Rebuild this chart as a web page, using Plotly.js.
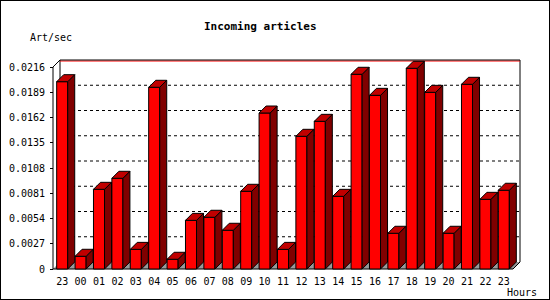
<!DOCTYPE html>
<html><head><meta charset="utf-8">
<script src="https://cdn.plot.ly/plotly-3.0.1.min.js"></script>
<style>html,body{margin:0;padding:0;background:#fff}#chart{width:548px;height:298px;border:1px solid #000}</style>
</head><body><div id="chart"></div>
<script>
// ---- data ----
const hours = ['23','00','01','02','03','04','05','06','07','08','09','10','11','12','13','14','15','16','17','18','19','20','21','22','23'];
const rate = [0.02003, 0.00136, 0.00852, 0.00970, 0.00210, 0.01943, 0.00104, 0.00520, 0.00553, 0.00414,
              0.00831, 0.01668, 0.00210, 0.01419, 0.01579, 0.00777, 0.02082, 0.01857, 0.00382, 0.02146,
              0.01889, 0.00382, 0.01975, 0.00745, 0.00842];
const yTickVals = [0, 0.0027, 0.0054, 0.0081, 0.0108, 0.0135, 0.0162, 0.0189, 0.0216];
const yTickText = ['0', '0.0027', '0.0054', '0.0081', '0.0108', '0.0135', '0.0162', '0.0189', '0.0216'];

// ---- geometry (layout only) ----
const nCat = hours.length;
const yMax = yTickVals[yTickVals.length - 1];
const catPx = 18.4, valPx = 202 / yMax, depthPx = 7, padPx = 3;
const dx = depthPx / catPx, dy = depthPx / valPx;
const barW = 0.6;
const W = 548, H = 298;
const plotW = nCat * catPx + depthPx + 2 * padPx;
const plotH = 202 + depthPx + 2 * padPx;
const mL = 52 - padPx, mT = 59 - padPx;
const mR = W - mL - plotW, mB = H - mT - plotH;
const xRange = [-padPx / catPx, nCat + dx + padPx / catPx];
const yRange = [-padPx / valPx, yMax + dy + padPx / valPx];
const paperX = px => (px - 1 - mL) / plotW;
const paperY = py => (H - mB - (py - 1)) / plotH;

const xc = hours.map((h, i) => i + 0.5);

// side and top faces of the 3D bars
const sideX = [], sideY = [], topX = [], topY = [];
rate.forEach((v, i) => {
  const xl = xc[i] - barW / 2, xr = xc[i] + barW / 2;
  sideX.push(xr, xr + dx, xr + dx, xr, xr, null);
  sideY.push(0, dy, v + dy, v, 0, null);
  topX.push(xl, xr, xr + dx, xl + dx, xl, null);
  topY.push(v, v, v + dy, v + dy, v, null);
});

const traces = [
  { type: 'bar', x: xc, y: rate, width: barW,
    marker: { color: '#ff0000', line: { color: '#000000', width: 1 } }, hoverinfo: 'skip' },
  { type: 'scatter', mode: 'lines', x: sideX, y: sideY, fill: 'toself', fillcolor: '#800000',
    line: { color: '#000000', width: 1 }, hoverinfo: 'skip' },
  { type: 'scatter', mode: 'lines', x: topX, y: topY, fill: 'toself', fillcolor: '#c00000',
    line: { color: '#000000', width: 1 }, hoverinfo: 'skip' }
];

const shapes = [];
// floor
shapes.push({ type: 'path', layer: 'below', path: `M 0 0 L ${nCat} 0 L ${nCat + dx} ${dy} L ${dx} ${dy} Z`,
  fillcolor: '#999999', line: { width: 0 } });
// back wall grid lines
yTickVals.slice(1, -1).forEach(v => {
  shapes.push({ type: 'line', layer: 'below', x0: dx, x1: nCat + dx, y0: v + dy, y1: v + dy,
    line: { color: '#000000', width: 1, dash: 'dot' } });
});
// back wall edges
shapes.push({ type: 'line', layer: 'below', x0: dx, x1: dx, y0: dy, y1: yMax + dy, line: { color: '#000', width: 1 } });
shapes.push({ type: 'line', layer: 'below', x0: nCat + dx, x1: nCat + dx, y0: dy, y1: yMax + dy, line: { color: '#000', width: 1 } });
shapes.push({ type: 'line', layer: 'below', x0: dx, x1: nCat + dx, y0: yMax + dy - 1 / valPx, y1: yMax + dy - 1 / valPx, line: { color: '#ff0000', width: 1 } });
shapes.push({ type: 'line', layer: 'below', x0: dx, x1: nCat + dx, y0: yMax + dy, y1: yMax + dy, line: { color: '#000', width: 1 } });
// front axis with diagonal to back wall
shapes.push({ type: 'path', layer: 'below', path: `M 0 0 L 0 ${yMax} L ${dx} ${yMax + dy}`, line: { color: '#000', width: 1 } });
// x axis line and floor right edge
shapes.push({ type: 'line', layer: 'below', x0: 0, x1: nCat, y0: 0, y1: 0, line: { color: '#000', width: 1 } });
shapes.push({ type: 'line', layer: 'below', x0: nCat, x1: nCat + dx, y0: 0, y1: dy, line: { color: '#000', width: 1 } });

const tickFont = { family: 'DejaVu Sans Mono', size: 10, color: '#000000' };

const layout = {
  width: W, height: H,
  margin: { l: mL, r: mR, t: mT, b: mB, pad: 0, autoexpand: false },
  paper_bgcolor: '#ffffff', plot_bgcolor: 'rgba(0,0,0,0)',
  showlegend: false,
  xaxis: { range: xRange, anchor: 'free', position: padPx / plotH,
    tickmode: 'array', tickvals: xc, ticktext: hours, ticks: '', tickfont: tickFont,
    showgrid: false, zeroline: false, showline: false, fixedrange: true, ticklabelstandoff: 5 },
  xaxis2: { range: xRange, overlaying: 'x', anchor: 'free', position: padPx / plotH,
    tickmode: 'array', tickvals: hours.map((h, i) => i).concat([nCat]), ticks: 'outside', ticklen: 4,
    tickcolor: '#000', showticklabels: false, showgrid: false, zeroline: false, showline: false },
  yaxis: { range: yRange, anchor: 'free', position: padPx / plotW,
    tickmode: 'array', tickvals: yTickVals, ticktext: yTickText, ticks: 'outside', ticklen: 3,
    tickcolor: '#000', tickfont: tickFont, showgrid: false, zeroline: false, showline: false,
    fixedrange: true, ticklabelstandoff: 3 },
  shapes: shapes,
  annotations: [
    { text: 'Incoming articles', xref: 'paper', yref: 'paper', x: paperX(260), y: paperY(27),
      xanchor: 'center', yanchor: 'middle', showarrow: false,
      font: { family: 'DejaVu Sans Mono', size: 11, color: '#000', weight: 'bold' } },
    { text: 'Art/sec', xref: 'paper', yref: 'paper', x: paperX(28), y: paperY(37),
      xanchor: 'left', yanchor: 'middle', showarrow: false, font: tickFont },
    { text: 'Hours', xref: 'paper', yref: 'paper', x: paperX(505), y: paperY(292),
      xanchor: 'left', yanchor: 'middle', showarrow: false, font: tickFont }
  ]
};

Plotly.newPlot('chart', traces, layout, { staticPlot: true, displayModeBar: false });
</script>
</body></html>
